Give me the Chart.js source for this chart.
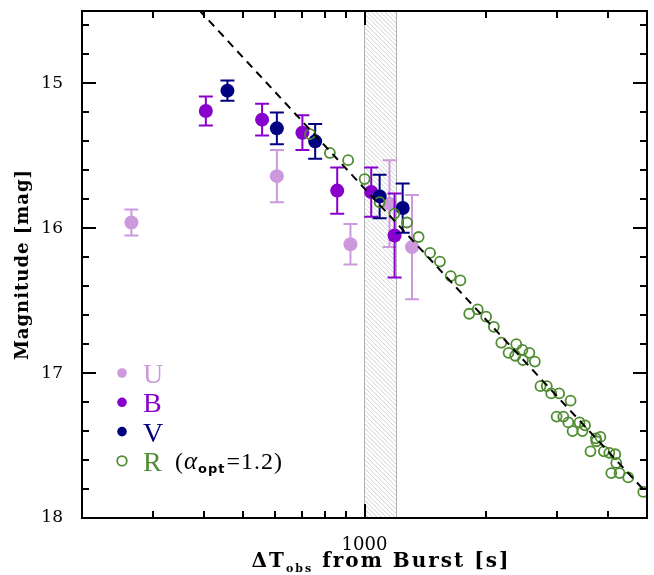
<!DOCTYPE html>
<html>
<head>
<meta charset="utf-8">
<script src="https://cdn.jsdelivr.net/npm/chart.js@4.4.0/dist/chart.umd.min.js"></script>
<style>
  html, body { margin: 0; padding: 0; background: #fff; }
</style>
</head>
<body>
<canvas id="lc" width="654" height="575"></canvas>
<script>
// photometry: time since burst [s], magnitude, error
const uTime = [265, 607, 923, 1153, 1311];
const uMag  = [15.96, 15.64, 16.11, 15.83, 16.13];
const uErr  = [0.09, 0.18, 0.14, 0.30, 0.36];

const bTime = [405, 558, 702, 856, 1039, 1187];
const bMag  = [15.19, 15.25, 15.34, 15.74, 15.75, 16.05];
const bErr  = [0.10, 0.11, 0.12, 0.16, 0.17, 0.29];

const vTime = [458, 607, 755, 1090, 1243];
const vMag  = [15.05, 15.31, 15.40, 15.78, 15.86];
const vErr  = [0.07, 0.11, 0.12, 0.15, 0.17];

const rTime = [733, 821, 911, 1001, 1090, 1185, 1274, 1361, 1453, 1537, 1634, 1727,
               1816, 1906, 2000, 2089, 2180, 2374, 2272, 2360, 2459, 2558, 2466, 2639,
               2725, 2825, 2897, 3031, 3235, 2988, 3104, 3194, 3404, 3512, 3272, 3462,
               3737, 3834, 3748, 3623, 3911, 4034, 4173, 4197, 4080, 4276, 4492, 4895];
const rMag  = [15.35, 15.48, 15.53, 15.66, 15.82, 15.90, 15.96, 16.06, 16.17, 16.23, 16.33, 16.36,
               16.59, 16.56, 16.61, 16.68, 16.79, 16.80, 16.86, 16.88, 16.84, 16.86, 16.91, 16.92,
               17.09, 17.09, 17.14, 17.14, 17.19, 17.30, 17.30, 17.34, 17.34, 17.36, 17.40, 17.40,
               17.45, 17.44, 17.47, 17.54, 17.54, 17.55, 17.56, 17.62, 17.69, 17.69, 17.72, 17.82];

// power law decay, alpha_opt = 1.2
const fitTime = [390, 5000];
const fitMag  = [14.494, 17.83];

// shaded interval
const bandTime = [1000, 1200];

// axis ticks
const xLabelTicks = [1000];
const xMajorTicks = [1000];
const xMinorTicks = [300, 400, 500, 600, 700, 800, 900, 2000, 3000, 4000];
const yLabelTicks = [15, 16, 17, 18];
const yMajorTicks = [15, 16, 17];
const yMinorTicks = [14.6, 14.8, 15.2, 15.4, 15.6, 15.8, 16.2, 16.4, 16.6, 16.8,
                     17.2, 17.4, 17.6, 17.8];

const colU = '#cc99dd', colB = '#8800cc', colV = '#000080', colR = '#508c32';

function pts(t, m) { return t.map((v, i) => ({ x: v, y: m[i] })); }

const errSets = { U: uErr, B: bErr, V: vErr };

// hatch, error bars, frame, legend and titles
const extras = {
    id: 'extras',
    beforeDraw(chart) {
        chart.ctx.letterSpacing = '0px';
        chart.ctx.wordSpacing = '0px';
    },
    beforeDatasetsDraw(chart) {
        const ctx = chart.ctx, a = chart.chartArea, xs = chart.scales.x;
        const x0 = xs.getPixelForValue(bandTime[0]), x1 = xs.getPixelForValue(bandTime[1]);
        ctx.save();
        ctx.beginPath();
        ctx.rect(x0, a.top, x1 - x0, a.bottom - a.top);
        ctx.clip();
        ctx.strokeStyle = '#b4b4b4';
        ctx.lineWidth = 0.6;
        const h = a.bottom - a.top;
        ctx.beginPath();
        for (let k = -h; k < x1 - x0 + 5; k += 4.5) {
            ctx.moveTo(x0 + k, a.top);
            ctx.lineTo(x0 + k + h, a.bottom);
        }
        ctx.stroke();
        ctx.restore();
        ctx.save();
        ctx.strokeStyle = '#b0b0b0';
        ctx.lineWidth = 1;
        ctx.beginPath();
        ctx.moveTo(x0, a.top); ctx.lineTo(x0, a.bottom);
        ctx.moveTo(x1, a.top); ctx.lineTo(x1, a.bottom);
        ctx.stroke();
        ctx.restore();
    },
    beforeDatasetDraw(chart, args) {
        const ds = chart.data.datasets[args.index];
        const err = errSets[ds.label];
        if (!err) return;
        const ctx = chart.ctx, xs = chart.scales.x, ys = chart.scales.y;
        ctx.save();
        ctx.strokeStyle = ds.borderColor;
        ctx.lineWidth = 2;
        ds.data.forEach((p, i) => {
            const x = xs.getPixelForValue(p.x);
            const yt = ys.getPixelForValue(p.y - err[i]);
            const yb = ys.getPixelForValue(p.y + err[i]);
            ctx.beginPath();
            ctx.moveTo(x, yt); ctx.lineTo(x, yb);
            ctx.moveTo(x - 7, yt); ctx.lineTo(x + 7, yt);
            ctx.moveTo(x - 7, yb); ctx.lineTo(x + 7, yb);
            ctx.stroke();
        });
        ctx.restore();
    },
    afterDatasetsDraw(chart) {
        const ctx = chart.ctx, a = chart.chartArea, xs = chart.scales.x, ys = chart.scales.y;
        ctx.save();
        ctx.strokeStyle = '#000';
        ctx.lineWidth = 2;
        ctx.strokeRect(a.left, a.top, a.right - a.left, a.bottom - a.top);
        ctx.beginPath();
        const xt = (vals, len) => vals.forEach(v => {
            const x = Math.round(xs.getPixelForValue(v));
            ctx.moveTo(x, a.bottom); ctx.lineTo(x, a.bottom - len);
            ctx.moveTo(x, a.top); ctx.lineTo(x, a.top + len);
        });
        const yt = (vals, len) => vals.forEach(v => {
            const y = Math.round(ys.getPixelForValue(v));
            ctx.moveTo(a.left, y); ctx.lineTo(a.left + len, y);
            ctx.moveTo(a.right, y); ctx.lineTo(a.right - len, y);
        });
        xt(xMajorTicks, 14); xt(xMinorTicks, 7);
        yt(yMajorTicks, 14); yt(yMinorTicks, 7);
        ctx.stroke();
        ctx.restore();
    },
    afterDraw(chart) {
        const ctx = chart.ctx, a = chart.chartArea;
        ctx.save();
        // legend
        const rows = [
            { name: 'U', c: colU, fill: true },
            { name: 'B', c: colB, fill: true },
            { name: 'V', c: colV, fill: true },
            { name: 'R', c: colR, fill: false }
        ];
        rows.forEach((r, i) => {
            const y = 373 + i * 29.3;
            ctx.beginPath();
            ctx.arc(122, y, 4.8, 0, Math.PI * 2);
            if (r.fill) { ctx.fillStyle = r.c; ctx.fill(); }
            else { ctx.strokeStyle = r.c; ctx.lineWidth = 1.8; ctx.stroke(); }
            ctx.fillStyle = r.c;
            ctx.font = '28px "Liberation Serif"';
            ctx.textBaseline = 'alphabetic';
            ctx.textAlign = 'left';
            ctx.fillText(r.name, 143, y + 10);
        });
        let x = 175;
        const by = 373 + 3 * 29.3 + 8;
        ctx.fillStyle = '#000';
        ctx.letterSpacing = '1px';
        ctx.font = '24px "Liberation Serif"';
        ctx.fillText('(', x, by); x += ctx.measureText('(').width;
        ctx.font = 'italic 25px "Liberation Serif"';
        ctx.fillText('\u03b1', x, by); x += ctx.measureText('\u03b1').width;
        ctx.font = 'bold 13px "DejaVu Sans"';
        ctx.fillText('opt', x, by + 4); x += ctx.measureText('opt').width + 1;
        ctx.font = '24px "Liberation Serif"';
        ctx.fillText('=1.2)', x, by);

        // y axis title
        ctx.font = 'bold 18px "DejaVu Serif"';
        ctx.letterSpacing = '1px';
        ctx.textBaseline = 'middle';
        ctx.save();
        ctx.translate(23, (a.top + a.bottom) / 2);
        ctx.rotate(-Math.PI / 2);
        ctx.textAlign = 'center';
        ctx.fillText('Magnitude [mag]', 0, 0);
        ctx.restore();

        // x axis title
        const big = 'bold 20px "DejaVu Serif"', small = 'bold 11px "DejaVu Serif"';
        ctx.letterSpacing = '2px';
        ctx.wordSpacing = '16px';
        ctx.font = big;
        const w1 = ctx.measureText('\u0394T').width;
        const w3 = ctx.measureText(' from Burst [s]').width;
        ctx.font = small;
        const w2 = ctx.measureText('obs').width;
        let tx = 381 - (w1 + w2 + w3) / 2;
        const ty = 567;
        ctx.textAlign = 'left';
        ctx.textBaseline = 'alphabetic';
        ctx.font = big; ctx.fillText('\u0394T', tx, ty); tx += w1;
        ctx.font = small; ctx.fillText('obs', tx, ty + 5); tx += w2;
        ctx.font = big; ctx.fillText(' from Burst [s]', tx, ty);
        ctx.restore();
    }
};

new Chart(document.getElementById('lc'), {
    type: 'scatter',
    data: {
        datasets: [
            { label: 'fit', type: 'line', data: pts(fitTime, fitMag), borderColor: '#000',
              borderWidth: 2, borderDash: [8, 6], pointRadius: 0, fill: false, order: 0 },
            { label: 'R', data: pts(rTime, rMag), borderColor: colR, backgroundColor: 'rgba(0,0,0,0)',
              borderWidth: 1.8, pointRadius: 5, order: 1 },
            { label: 'V', data: pts(vTime, vMag), borderColor: colV, backgroundColor: colV,
              borderWidth: 0, pointRadius: 7, order: 2 },
            { label: 'B', data: pts(bTime, bMag), borderColor: colB, backgroundColor: colB,
              borderWidth: 0, pointRadius: 7, order: 3 },
            { label: 'U', data: pts(uTime, uMag), borderColor: colU, backgroundColor: colU,
              borderWidth: 0, pointRadius: 7, order: 4 }
        ]
    },
    options: {
        responsive: false,
        animation: false,
        devicePixelRatio: 1,
        layout: { padding: { top: 11, right: 2, left: 0, bottom: 0 } },
        plugins: { legend: { display: false }, tooltip: { enabled: false } },
        scales: {
            x: {
                type: 'logarithmic', min: 200, max: 5000,
                grid: { display: false, drawTicks: false },
                border: { display: false },
                afterBuildTicks(s) { s.ticks = xLabelTicks.map(v => ({ value: v })); },
                afterFit(s) { s.height = 57; s.paddingLeft = 0; s.paddingRight = 0; },
                ticks: { color: '#000', padding: 17, maxRotation: 0, autoSkip: false,
                         font: { family: 'DejaVu Serif', size: 18 },
                         callback: v => String(v) }
            },
            y: {
                type: 'linear', reverse: true, min: 14.5, max: 18,
                grid: { display: false, drawTicks: false },
                border: { display: false },
                afterBuildTicks(s) { s.ticks = yLabelTicks.map(v => ({ value: v })); },
                afterFit(s) { s.width = 82; s.paddingTop = 0; s.paddingBottom = 0; },
                ticks: { color: '#000', padding: 19,
                         font: { family: 'DejaVu Serif', size: 17 },
                         callback: v => String(v) }
            }
        }
    },
    plugins: [extras]
});
</script>
</body>
</html>
